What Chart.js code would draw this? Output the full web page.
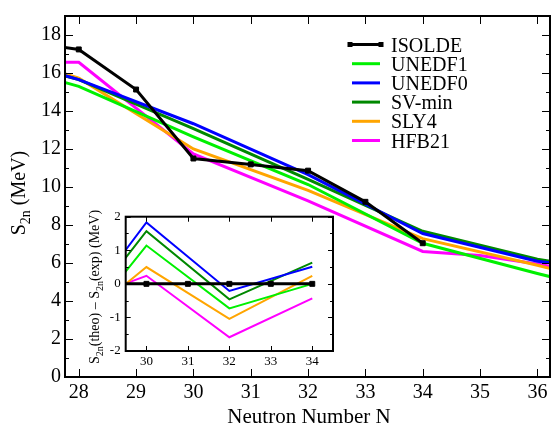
<!DOCTYPE html>
<html><head><meta charset="utf-8">
<script src="https://cdn.jsdelivr.net/npm/chart.js@4"></script>
<style>
html,body{margin:0;padding:0;background:#fff;}
#wrap{position:relative;width:555px;height:425px;background:#fff;}
#main{position:absolute;left:0;top:0;}
#inset{position:absolute;left:76px;top:200px;}
</style></head><body>
<div id="wrap"><canvas id="main" width="555" height="425"></canvas><canvas id="inset" width="262" height="175"></canvas></div>
<script>
// ---- main panel data ----
const N_exp        = [27, 28, 29, 30, 31, 32, 33, 34];
const S2n_ISOLDE   = [17.66, 17.24, 15.13, 11.50, 11.19, 10.86, 9.22, 7.04];
const N_theo       = [27, 28, 30, 32, 34, 36, 37];
const S2n_UNEDF1   = [16.13, 15.30, 12.64, 10.13, 7.04, 5.45, 4.68];
const S2n_UNEDF0   = [16.52, 15.65, 13.33, 10.65, 7.55, 6.09, 5.73];
const S2n_SVmin    = [16.48, 15.65, 13.07, 10.40, 7.67, 6.20, 5.70];
const S2n_SLY4     = [16.69, 15.73, 12.00, 9.82, 7.28, 5.88, 5.10];
const N_hfb        = [27, 28, 30, 32, 34, 35, 36, 37];
const S2n_HFB21    = [16.56, 16.56, 11.74, 9.27, 6.61, 6.40, 5.95, 5.40];
const xTicksMain   = [28, 29, 30, 31, 32, 33, 34, 35, 36];
const yTicksMain   = [0, 2, 4, 6, 8, 10, 12, 14, 16, 18];
const yMinorMain   = [1, 3, 5, 7, 9, 11, 13, 15, 17];
// ---- inset data ----
const N_ins_exp    = [29, 30, 31, 32, 33, 34];
const D_ISOLDE     = [0, 0, 0, 0, 0, 0];
const N_ins        = [28, 30, 32, 34];
const D_UNEDF1     = [-1.94, 1.14, -0.73, 0.00];
const D_UNEDF0     = [-1.45, 1.83, -0.21, 0.51];
const D_SVmin      = [-1.59, 1.57, -0.46, 0.63];
const D_SLY4       = [-1.51, 0.50, -1.04, 0.24];
const D_HFB21      = [-0.68, 0.24, -1.59, -0.43];
const xTicksIns    = [30, 31, 32, 33, 34];
const yTicksIns    = [-2, -1, 0, 1, 2];
const yMinorIns    = [-1.5, -0.5, 0.5, 1.5];

const names  = ['ISOLDE', 'UNEDF1', 'UNEDF0', 'SV-min', 'SLY4', 'HFB21'];
const colors = ['#000000', '#00f000', '#0000ff', '#008800', '#ffa500', '#ff00ff'];

const FONT = "'Liberation Serif','Times New Roman',serif";
const pts = (xs, ys) => xs.map((x, i) => ({x: x, y: ys[i]}));

function drawRich(ctx, parts, cx, cy, rot, size, subSize, drop) {
  ctx.save();
  ctx.translate(cx, cy);
  ctx.rotate(rot);
  ctx.textBaseline = 'alphabetic';
  ctx.textAlign = 'left';
  let w = 0;
  parts.forEach(p => { ctx.font = (p.sub ? subSize : size) + 'px ' + FONT; w += ctx.measureText(p.t).width; });
  let x = -w / 2;
  parts.forEach(p => {
    ctx.font = (p.sub ? subSize : size) + 'px ' + FONT;
    ctx.fillStyle = '#000';
    ctx.fillText(p.t, x, p.sub ? drop : 0);
    x += ctx.measureText(p.t).width;
  });
  ctx.restore();
}

function drawFrameTicks(ctx, a, xs, ys, xTicks, yMaj, yMin, majLen, minLen, frameW) {
  ctx.save();
  ctx.strokeStyle = '#000';
  ctx.lineWidth = 1;
  ctx.beginPath();
  xTicks.forEach(v => {
    const p = Math.round(xs.getPixelForValue(v)) + 0.5;
    ctx.moveTo(p, a.bottom); ctx.lineTo(p, a.bottom - majLen);
    ctx.moveTo(p, a.top); ctx.lineTo(p, a.top + majLen);
  });
  yMaj.forEach(v => {
    const p = Math.round(ys.getPixelForValue(v)) + 0.5;
    ctx.moveTo(a.left, p); ctx.lineTo(a.left + majLen, p);
    ctx.moveTo(a.right, p); ctx.lineTo(a.right - majLen, p);
  });
  yMin.forEach(v => {
    const p = Math.round(ys.getPixelForValue(v)) + 0.5;
    ctx.moveTo(a.left, p); ctx.lineTo(a.left + minLen, p);
    ctx.moveTo(a.right, p); ctx.lineTo(a.right - minLen, p);
  });
  ctx.stroke();
  ctx.lineWidth = frameW;
  ctx.strokeRect(a.left, a.top, a.right - a.left, a.bottom - a.top);
  ctx.restore();
}

const mainDeco = {
  id: 'mainDeco',
  afterDraw(chart) {
    const ctx = chart.ctx, a = chart.chartArea;
    drawFrameTicks(ctx, a, chart.scales.x, chart.scales.y, xTicksMain, yTicksMain, yMinorMain, 8, 4, 2);
    // axis titles
    drawRich(ctx, [{t: 'Neutron Number N'}], 309, 423, 0, 21, 14, 0);
    drawRich(ctx, [{t: 'S'}, {t: '2n', sub: true}, {t: ' (MeV)'}], 25, 193, -Math.PI / 2, 20, 14, 5);
    // legend
    ctx.save();
    chart.data.datasets.forEach((ds, i) => {
      const yy = 44.5 + i * 19.2;
      ctx.strokeStyle = ds.borderColor;
      ctx.lineWidth = 3;
      ctx.beginPath();
      if (i === 0) { ctx.moveTo(350, yy); ctx.lineTo(381, yy); }
      else { ctx.moveTo(352, yy); ctx.lineTo(380, yy); }
      ctx.stroke();
      if (i === 0) {
        ctx.fillStyle = '#000';
        ctx.fillRect(347.5, yy - 2.5, 5, 5);
        ctx.fillRect(378.5, yy - 2.5, 5, 5);
      }
      ctx.fillStyle = '#000';
      ctx.font = '20px ' + FONT;
      ctx.textBaseline = 'alphabetic';
      ctx.textAlign = 'left';
      ctx.fillText(ds.label, 391, yy + 7);
    });
    ctx.restore();
  }
};

const insetDeco = {
  id: 'insetDeco',
  afterDraw(chart) {
    const ctx = chart.ctx, a = chart.chartArea;
    drawFrameTicks(ctx, a, chart.scales.x, chart.scales.y, xTicksIns, yTicksIns, yMinorIns, 5, 3, 2);
    drawRich(ctx, [{t: 'S'}, {t: '2n', sub: true}, {t: '(theo) \u2013 S'}, {t: '2n', sub: true}, {t: '(exp) (MeV)'}],
      23, 87, -Math.PI / 2, 14, 10, 3.5);
  }
};

function lineDs(label, color, xs, ys, w, marker) {
  return {
    label: label, data: pts(xs, ys), borderColor: color, backgroundColor: color,
    borderWidth: w, pointRadius: marker ? 3.5 : 0, pointStyle: 'rect',
    pointBorderWidth: 1, tension: 0, fill: false
  };
}

new Chart(document.getElementById('main'), {
  type: 'line',
  data: {
    datasets: [
      lineDs(names[0], colors[0], N_exp, S2n_ISOLDE, 3, true),
      lineDs(names[1], colors[1], N_theo, S2n_UNEDF1, 3, false),
      lineDs(names[2], colors[2], N_theo, S2n_UNEDF0, 3, false),
      lineDs(names[3], colors[3], N_theo, S2n_SVmin, 3, false),
      lineDs(names[4], colors[4], N_theo, S2n_SLY4, 3, false),
      lineDs(names[5], colors[5], N_hfb, S2n_HFB21, 3, false)
    ]
  },
  options: {
    responsive: false, animation: false, devicePixelRatio: 1,
    layout: {padding: {left: 0, right: 1, top: 8, bottom: 0}},
    plugins: {legend: {display: false}, tooltip: {enabled: false}},
    scales: {
      x: {
        type: 'linear', min: 27.76, max: 36.22,
        grid: {display: false, drawTicks: false}, border: {display: false},
        afterBuildTicks: s => { s.ticks = xTicksMain.map(v => ({value: v})); },
        afterFit: s => { s.height = 48; },
        ticks: {padding: 4, color: '#000', font: {family: FONT, size: 20}, maxRotation: 0, autoSkip: false}
      },
      y: {
        type: 'linear', min: 0, max: 19,
        grid: {display: false, drawTicks: false}, border: {display: false},
        afterBuildTicks: s => { s.ticks = yTicksMain.map(v => ({value: v})); },
        afterFit: s => { s.width = 65; },
        ticks: {padding: 4, color: '#000', font: {family: FONT, size: 20}, autoSkip: false}
      }
    }
  },
  plugins: [mainDeco]
});

new Chart(document.getElementById('inset'), {
  type: 'line',
  data: {
    datasets: [
      lineDs(names[0], colors[0], N_ins_exp, D_ISOLDE, 3, true),
      lineDs(names[1], colors[1], N_ins, D_UNEDF1, 2, false),
      lineDs(names[2], colors[2], N_ins, D_UNEDF0, 2, false),
      lineDs(names[3], colors[3], N_ins, D_SVmin, 2, false),
      lineDs(names[4], colors[4], N_ins, D_SLY4, 2, false),
      lineDs(names[5], colors[5], N_ins, D_HFB21, 2, false)
    ]
  },
  options: {
    responsive: false, animation: false, devicePixelRatio: 1,
    layout: {padding: {left: 0, right: 4.5, top: 16.7, bottom: 0}},
    plugins: {legend: {display: false}, tooltip: {enabled: false}},
    scales: {
      x: {
        type: 'linear', min: 29.5, max: 34.5,
        grid: {display: false, drawTicks: false}, border: {display: false},
        afterBuildTicks: s => { s.ticks = xTicksIns.map(v => ({value: v})); },
        afterFit: s => { s.height = 24; },
        ticks: {padding: 3, color: '#000', font: {family: FONT, size: 13}, maxRotation: 0, autoSkip: false}
      },
      y: {
        type: 'linear', min: -2, max: 2,
        grid: {display: false, drawTicks: false}, border: {display: false},
        afterBuildTicks: s => { s.ticks = yTicksIns.map(v => ({value: v})); },
        afterFit: s => { s.width = 49.7; },
        ticks: {padding: 5, color: '#000', font: {family: FONT, size: 13}, autoSkip: false}
      }
    }
  },
  plugins: [insetDeco]
});
</script>
</body></html>
